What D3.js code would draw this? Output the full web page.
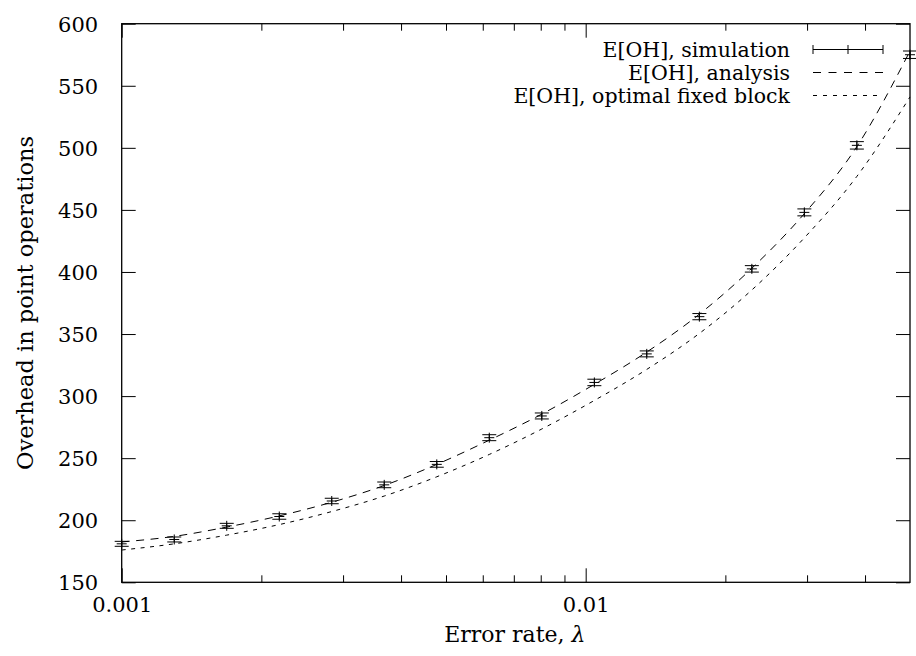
<!DOCTYPE html>
<html>
<head>
<meta charset="utf-8">
<script src="https://cdn.jsdelivr.net/npm/d3@7"></script>
<style>
  html, body { margin: 0; padding: 0; background: #fff; }
  svg { display: block; }
  svg text { font-family: "DejaVu Serif", serif; fill: #000; }
</style>
</head>
<body>
<svg id="chart" width="916" height="656"></svg>
<script>
// Error rate (lambda) at which each configuration was evaluated
const lambdaValues = [0.001, 0.001298, 0.001684, 0.002186, 0.002836, 0.00368, 0.004776, 0.006198,
                      0.008043, 0.01044, 0.01354, 0.01758, 0.02281, 0.0296, 0.03841, 0.05];
// Simulated expected overhead (mean) and its error half-width
const simMean = [181, 184.5, 195.5, 203, 215.5, 228.5, 245, 266.5, 284, 311, 334, 364, 402.5, 448, 502, 575];
const simErr  = [2, 2, 2, 2.2, 2.2, 2.3, 2.3, 2.4, 2.4, 2.6, 2.4, 2.5, 2.6, 2.8, 3, 3];
// Analytic expected overhead
const analysisOH = [182.5, 187, 194.5, 203.5, 214.5, 228, 245, 264.5, 285.5, 309.5, 335.5, 366, 403, 447, 501, 578];
// Expected overhead with the optimal fixed block size
const fixedBlockOH = [176, 181, 188, 196.5, 207, 219.5, 235, 253, 273.5, 296.5, 321.5, 350.5, 385.5, 427.5, 477, 541];

const xMajorTicks = [0.001, 0.01];
const xMinorTicks = [0.002, 0.003, 0.004, 0.005, 0.006, 0.007, 0.008, 0.009, 0.02, 0.03, 0.04];
const yTicks = [150, 200, 250, 300, 350, 400, 450, 500, 550, 600];
const xTickText = ["0.001", "0.01"];

const legendLabels = ["E[OH], simulation", "E[OH], analysis", "E[OH], optimal fixed block"];

const svg = d3.select("#chart");
const plotL = 121.7, plotR = 910, plotT = 23.7, plotB = 582.3;

const x = d3.scaleLog().domain([0.001, 0.05]).range([plotL, plotR]);
const y = d3.scaleLinear().domain([150, 600]).range([plotB, plotT]);

const FS = 21;
const FONT = "DejaVu Serif";

// axes (ticks point inward, mirrored on top and right)
function styleAxis(g) {
  g.attr("font-family", FONT);
  g.select(".domain").remove();
  g.selectAll(".tick line").attr("stroke", "#000").attr("stroke-width", 1);
}

svg.append("g").attr("transform", `translate(${plotL},0)`)
  .call(d3.axisLeft(y).tickValues(yTicks).tickSize(-14).tickPadding(23.5).tickFormat(d3.format("d")))
  .call(styleAxis)
  .call(g => g.selectAll("text").attr("font-size", FS).attr("dy", "0.36em"));

svg.append("g").attr("transform", `translate(${plotR},0)`)
  .call(d3.axisRight(y).tickValues(yTicks).tickSize(-14).tickFormat(""))
  .call(styleAxis);

svg.append("g").attr("transform", `translate(0,${plotB})`)
  .call(d3.axisBottom(x).tickValues(xMajorTicks).tickSize(-14).tickPadding(14)
        .tickFormat((d, i) => xTickText[i]))
  .call(styleAxis)
  .call(g => g.selectAll("text").attr("font-size", FS).attr("dy", "0.76em"));

svg.append("g").attr("transform", `translate(0,${plotB})`)
  .call(d3.axisBottom(x).tickValues(xMinorTicks).tickSize(-7).tickFormat(""))
  .call(styleAxis);

svg.append("g").attr("transform", `translate(0,${plotT})`)
  .call(d3.axisTop(x).tickValues(xMajorTicks).tickSize(-14).tickFormat(""))
  .call(styleAxis);

svg.append("g").attr("transform", `translate(0,${plotT})`)
  .call(d3.axisTop(x).tickValues(xMinorTicks).tickSize(-7).tickFormat(""))
  .call(styleAxis);

// plot border
svg.append("rect")
  .attr("x", plotL).attr("y", plotT)
  .attr("width", plotR - plotL).attr("height", plotB - plotT)
  .attr("fill", "none").attr("stroke", "#000").attr("stroke-width", 1.3);

// axis titles
svg.append("text")
  .attr("x", (plotL + plotR) / 2 - 1).attr("y", 642)
  .attr("text-anchor", "middle").attr("font-size", 22)
  .text("Error rate, ")
  .append("tspan").attr("font-style", "italic").text("λ");

svg.append("text")
  .attr("transform", `translate(33,${(plotT + plotB) / 2}) rotate(-90)`)
  .attr("text-anchor", "middle").attr("font-size", 22.5)
  .text("Overhead in point operations");

// curves
const line = vals => d3.line()
  .x((d, i) => x(lambdaValues[i]))
  .y(d => y(d))
  .curve(d3.curveMonotoneX)(vals);

svg.append("path").attr("d", line(analysisOH))
  .attr("fill", "none").attr("stroke", "#000").attr("stroke-width", 1)
  .attr("stroke-dasharray", "8,6.5");

svg.append("path").attr("d", line(fixedBlockOH))
  .attr("fill", "none").attr("stroke", "#000").attr("stroke-width", 1)
  .attr("stroke-dasharray", "4,5.5");

// simulation points with error bars
const capW = 7, plusW = 5;
const pts = svg.append("g").attr("stroke", "#000").attr("stroke-width", 1);
simMean.forEach((m, i) => {
  const px = x(lambdaValues[i]);
  const lo = y(m - simErr[i]), hi = y(m + simErr[i]), c = y(m);
  pts.append("line").attr("x1", px).attr("x2", px).attr("y1", lo).attr("y2", hi);
  pts.append("line").attr("x1", px - capW).attr("x2", px + capW).attr("y1", lo).attr("y2", lo);
  pts.append("line").attr("x1", px - capW).attr("x2", px + capW).attr("y1", hi).attr("y2", hi);
  pts.append("line").attr("x1", px - plusW).attr("x2", px + plusW).attr("y1", c).attr("y2", c);
  pts.append("line").attr("x1", px).attr("x2", px).attr("y1", c - plusW).attr("y2", c + plusW);
});

// legend
const legendY = [49.5, 72.5, 95.5];
const sx0 = 813, sx1 = 883, textRight = 790;
const lg = svg.append("g");
legendLabels.forEach((lbl, i) => {
  lg.append("text").attr("x", textRight).attr("y", legendY[i] + 7)
    .attr("text-anchor", "end").attr("font-size", 20.5).text(lbl);
});
const s0 = lg.append("g").attr("stroke", "#000").attr("stroke-width", 1);
s0.append("line").attr("x1", sx0).attr("x2", sx1).attr("y1", legendY[0]).attr("y2", legendY[0]);
s0.append("line").attr("x1", sx0).attr("x2", sx0).attr("y1", legendY[0] - 4.5).attr("y2", legendY[0] + 4.5);
s0.append("line").attr("x1", sx1).attr("x2", sx1).attr("y1", legendY[0] - 4.5).attr("y2", legendY[0] + 4.5);
s0.append("line").attr("x1", (sx0 + sx1) / 2).attr("x2", (sx0 + sx1) / 2).attr("y1", legendY[0] - 4.5).attr("y2", legendY[0] + 4.5);
lg.append("line").attr("x1", sx0).attr("x2", sx1).attr("y1", legendY[1]).attr("y2", legendY[1])
  .attr("stroke", "#000").attr("stroke-width", 1).attr("stroke-dasharray", "8,7.5");
lg.append("line").attr("x1", sx0).attr("x2", sx1).attr("y1", legendY[2]).attr("y2", legendY[2])
  .attr("stroke", "#000").attr("stroke-width", 1).attr("stroke-dasharray", "4,6");
</script>
</body>
</html>
